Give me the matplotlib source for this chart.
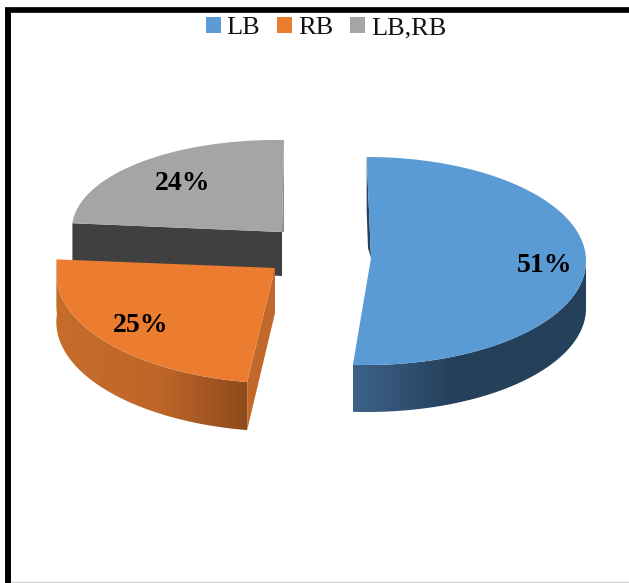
import numpy as np
from matplotlib import pyplot as plt
from matplotlib.colors import LinearSegmentedColormap
from matplotlib.patches import Patch, Polygon

labels = ['LB', 'RB', 'LB,RB']
shares = [51, 25, 24]
top_colors = ['#5B9BD5', '#EC7C30', '#A5A5A5']

plt.rcParams['font.family'] = ['Liberation Serif', 'DejaVu Serif']

# each exploded slice has its own ellipse, the perspective is different for each
# cx, cy, a, b, shear_x, shear_y, depth, apex
geometry = [
    (366, 261, 220, 104, 0.7, 0, 47, (371, 258)),
    (278, 277, 221, 106, -17, 11, 48, (275, 268)),
    (284, 232, 212, 92, 0, 3, 44, (282, 232)),
]
text_pos = [(545, 265), (141, 326), (183, 183)]


def arc(geo, start, stop):
    cx, cy, a, b, kx, ky = geo[:6]
    t = np.radians(np.linspace(start, stop, 120))
    x = cx + a*np.cos(t) + kx*np.abs(np.sin(t))
    y = cy - b*np.sin(t) + ky*np.cos(t)
    return np.column_stack((x, y))


def gradient_rim(ax, pts, depth, colors, stops):
    # side of the slice, gradient image clipped to the strip under the arc
    low = pts + [0, depth]
    poly = Polygon(np.vstack((pts, low[::-1])), closed=True, fc='none', ec='none')
    ax.add_patch(poly)
    x0 = pts[:, 0].min()
    x1 = pts[:, 0].max()
    cmap = LinearSegmentedColormap.from_list('rim', list(zip(stops, colors)))
    im = ax.imshow(np.linspace(0, 1, 256).reshape(1, -1), cmap=cmap, aspect='auto',
                   extent=(x0, x1, pts[:, 1].max()+depth, pts[:, 1].min()))
    im.set_clip_path(poly)


fig = plt.figure(figsize=(6.29, 5.83), dpi=100)
ax = fig.add_axes([0, 0, 1, 1])

# start at 12 o'clock and go clockwise
ends = 90 - 3.6*np.cumsum(shares)
starts = np.concatenate(([90], ends[:-1]))

# grey slice, it sits behind the orange one
g = geometry[2]
pts = arc(g, starts[2], ends[2])
depth = g[6]
apex = np.array(g[7])
ax.add_patch(Polygon([pts[0], apex, apex+[0, depth], pts[0]+[0, depth]], fc='#404040', ec='none'))
ax.add_patch(Polygon([pts[-1], apex, apex+[2, 0]], fc='#8A8A8A', ec='none'))
ax.add_patch(Polygon(np.vstack((pts, apex)), fc=top_colors[2], ec='none'))

# orange slice
g = geometry[1]
pts = arc(g, starts[1], ends[1])
depth = g[6]
apex = np.array(g[7])
gradient_rim(ax, pts, depth, ['#C66D2C', '#BE6629', '#8E4A1C'], [0, 0.55, 1])
ax.add_patch(Polygon([pts[0], apex, apex+[0, depth-3], pts[0]+[0, depth]], fc='#C0692B', ec='none'))
ax.add_patch(Polygon(np.vstack((pts, apex)), fc=top_colors[1], ec='none'))

# blue slice
g = geometry[0]
pts = arc(g, starts[0], ends[0])
depth = g[6]
apex = np.array(g[7])
gradient_rim(ax, arc(g, 0, ends[0]), depth, ['#3D6188', '#24405A', '#24405A'], [0, 0.45, 1])
ax.add_patch(Polygon([pts[0], apex, apex+[-3, -10], pts[0]+[0, 55]], fc='#24405A', ec='none'))
ax.add_patch(Polygon(np.vstack((pts, apex)), fc=top_colors[0], ec='none'))

for share, pos in zip(shares, text_pos):
    ax.text(pos[0], pos[1], f'{share}%', fontsize=20, fontweight='bold', color='black',
            ha='center', va='center')

handles = [Patch(fc=c, ec='none', label=n) for c, n in zip(top_colors, labels)]
ax.legend(handles=handles, ncols=3, loc='center', bbox_to_anchor=(326/629, 1-28/583),
          fontsize=19, frameon=False, handlelength=0.56, handleheight=0.56,
          handletextpad=0.22, columnspacing=0.65, labelcolor='#111111')

# frame of the picture, black on top and left, thin grey at the bottom
ax.plot([8, 8], [583, 10], color='black', lw=4.3, solid_capstyle='butt')
ax.plot([5, 629], [10, 10], color='black', lw=4.1, solid_capstyle='butt')
ax.plot([11, 629], [582, 582], color='#D0D0D0', lw=1, solid_capstyle='butt')

ax.set_xlim(0, 629)
ax.set_ylim(583, 0)
ax.axis('off')
fig.savefig('out.png', dpi=100)
